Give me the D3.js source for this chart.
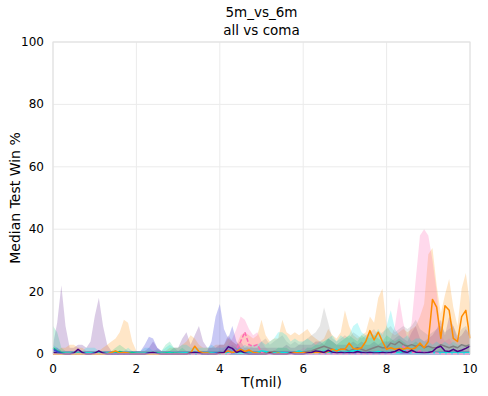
<!DOCTYPE html>
<html>
<head>
<meta charset="utf-8">
<script src="https://cdn.jsdelivr.net/npm/d3@7"></script>
<style>
  body { margin: 0; background: #fff; }
  svg { font-family: "DejaVu Sans", sans-serif; }
</style>
</head>
<body>
<div id="chart"></div>
<script>
// sample grid, T in millions (step 0.1)
var tMil = [0,0.1,0.2,0.3,0.4,0.5,0.6,0.7,0.8,0.9,
  1,1.1,1.2,1.3,1.4,1.5,1.6,1.7,1.8,1.9,2,2.1,2.2,2.3,2.4,2.5,2.6,2.7,2.8,2.9,
  3,3.1,3.2,3.3,3.4,3.5,3.6,3.7,3.8,3.9,4,4.1,4.2,4.3,4.4,4.5,4.6,4.7,4.8,4.9,
  5,5.1,5.2,5.3,5.4,5.5,5.6,5.7,5.8,5.9,6,6.1,6.2,6.3,6.4,6.5,6.6,6.7,6.8,6.9,
  7,7.1,7.2,7.3,7.4,7.5,7.6,7.7,7.8,7.9,8,8.1,8.2,8.3,8.4,8.5,8.6,8.7,8.8,8.9,
  9,9.1,9.2,9.3,9.4,9.5,9.6,9.7,9.8,9.9,10];

var xTicks = [0, 2, 4, 6, 8, 10];
var yTicks = [0, 20, 40, 60, 80, 100];

// upper edge of each shaded band (lower edge is 0)
var indigoHi = [3,10,22,9,2,2,3,3,2,4, 12,18,9,3,1,1,1,1,1,1, 1,1,1,2,4,2,1,1,1,2,
  2,5,7,3,6,9,4,2,2,2, 3,3,6,4,3,4,2,2,2,2, 2,2,2,2,2,2,3,2,2,3,
  3,3,3,4,4,3,5,4,3,3, 3,3,4,3,4,3,3,4,3,4, 4,4,5,6,5,4,7,9,5,4, 5,6,8,11,6,12,9,5,6,8, 6];
var orangeHi = [1,1,2,2,3,3,2,2,1,1, 1,1,2,3,4,5,7,11,10,4, 1,1,1,1,1,1,1,1,2,2,
  2,3,4,6,5,3,2,2,2,3, 3,3,5,4,3,6,7,6,5,6, 11,6,4,5,5,11,7,6,7,6,
  7,8,6,5,4,5,8,6,5,7, 14,9,6,5,6,7,12,10,18,21, 9,7,6,7,8,7,8,9,12,16, 32,34,22,13,19,24,15,9,21,26, 16];
var pinkHi = [0,0,0,0,0,0,0,0,0,0, 0,0,0,0,0,0,0,0,0,0, 0,0,0,0,0,0,0,0,0,0,
  0,0,0,0,1,1,1,0,0,0, 1,2,3,5,8,12,11,8,6,7, 4,2,1,1,1,1,1,1,1,1,
  2,2,2,1,1,1,1,1,1,1, 1,1,1,2,2,2,2,3,2,2, 3,5,9,18,10,5,10,24,38,40, 38,30,20,6,4,5,3,2,3,3, 2];
var grayHi = [0,0,0,0,0,0,0,0,0,0, 0,0,0,0,0,0,0,0,0,0, 0,0,0,0,0,0,0,0,0,0,
  1,1,1,1,1,1,1,1,1,1, 1,1,2,3,2,1,2,3,2,2, 4,5,3,4,5,6,4,3,4,3,
  4,5,6,7,9,15,10,5,4,5, 6,5,7,6,5,6,7,8,6,7, 8,9,7,8,9,8,9,11,8,7, 6,7,8,9,7,8,9,6,8,9, 7];
var cyanHi = [3,2,1,1,1,1,1,1,2,2, 2,1,1,1,1,1,1,1,2,1, 1,1,2,2,1,1,1,2,3,2,
  2,3,3,2,2,2,2,2,3,2, 2,2,3,2,2,2,3,2,3,3, 4,3,4,5,7,7,6,4,5,4,
  4,5,4,3,4,4,5,6,4,6, 5,6,9,10,7,6,5,6,8,6, 9,14,8,6,5,6,4,5,5,4, 4,3,4,3,4,3,4,3,3,3, 3];
var greenHi = [9,7,2,1,1,1,1,1,1,1, 1,1,1,1,1,2,3,2,1,1, 1,1,1,1,1,1.5,1,3,4,2,
  1,2,1,1,1,1,1,1,1,1, 1,1,1,1,1,1,1,1,1,1, 1,1,1,1,2,2,2,1,1,1,
  1,2,2,3,3,4,5,4,3,4, 5,6,5,4,6,5,7,6,5,4, 6,5,4,5,4,3,3,4,3,2, 2,2,1,2,1,1,2,1,1,1, 1];
var blueHi = [2,2,1,1,1,1,1,1,1,1, 1,1,1,1,1,1,1,1,1,1, 1,1,3,5.5,5,2,1,1,1,1,
  1,1,1,1,1,1,1,1,4,12, 16,8,5,9,4,2,1,1,1,1, 1,1,1,1,1,1,1,1,1,1,
  1,1,1,1,1,1,1,1,1,1, 1,1,1,1,1,1,1,1,1,1, 1,1,1,1,1,1,1,1,1,1, 1,1,1,1,1,1,1,1,1,1, 1];

// median lines
var indigoMed = [0.5,0.3,0.2,0,0,0.3,1.5,0.5,0,0, 0.3,1,0.3,0,0,0,0,0,0,0, 0,0,0,0.3,0.5,0.2,0,0,0,0,
  0,0,0,0.3,0.5,0.3,0,0,0,0, 0.3,0.5,2.3,1.8,0.5,1,0.3,0,0,0, 0,0,0.3,0,0,0,0,0.3,0,0,
  0,0.3,0.5,1,0.8,0.5,1.2,0.6,0.3,0.5, 0.3,0.5,0.3,0.8,0.5,0.3,0.5,0.3,0.3,0.5,
  0.3,0.5,0.8,1.5,0.8,0.5,1.2,0.6,0.5,0.3, 0.5,0.8,2,2.5,1,0.8,1.5,0.8,1.2,1.8, 2.5];
var orangeMed = [0,0,0,0,0,0,0,0,0,0, 0,0,0,0,0.5,1,0.3,0.5,0.3,0, 0,0,0,0,0,0,0,0,0,0,
  0,0,0,0.3,2.5,0.8,0.3,0.3,0,0, 0.3,0.5,1,0.5,0.8,1.5,0.8,1.3,0.5,0.3, 0,0,0.5,0,0.3,0,0,0.3,0.5,0.3,
  0.5,0.3,0.3,0.5,0.5,0.5,0.8,1.5,1,1.5, 1.5,3.5,1.8,1.5,2,4,7.5,4.5,7,4,
  1.5,2,1.5,1.8,1.5,2,1.5,2,3.5,2, 4,17.5,15,5,15.5,14,5,4,12,14, 5];
var pinkMed = [0,0,0,0,0,0,0,0,0,0, 0,0,0,0,0,0,0,0,0,0, 0,0,0,0,0,0,0,0,0,0,
  0,0,0,0,0,0,0,0,0,0, 0,0,0,0.5,1.5,4,7,3,2.5,3, 0.5,0,0,0,0,0,0,0,0,0,
  0,0,0,0,0,0,0,0,0,0, 0,0,0,0,0,0,0,0,0,0, 0,0,0.5,1.5,2.5,1,0.5,0.5,1,0.5, 0.5,0.3,0.3,0,0,0,0,0,0,0, 0];
var grayMed = [0,0,0,0,0,0,0,0,0,0, 0,0,0,0,0,0,0,0,0,0, 0,0,0,0,0,0,0,0,0,0,
  0,0,0,0,0,0,0,0,0,0, 0,0,0,0,0,0,0,0,0,0, 0.3,0.5,0.5,0.8,0.5,0.5,0.3,0.3,0.5,0.5,
  0.5,0.8,1,1.5,2,2.5,2,1.5,1,1.5, 1.5,1,1.5,2,1.5,1,1.5,2,2.5,2,
  2,3.5,3,4,3,2.5,3,2.5,3,2, 2.5,2,2,3,2.5,2,2.5,2,3,2.5, 3];
var cyanMed = [0.3,0.3,0.2,0.2,0.2,0.2,0.2,0.2,0.3,0.3, 0.3,0.2,0.2,0.2,0.2,0.2,0.2,0.2,0.2,0.2,
  0.2,0.2,0.2,0.2,0.2,0.2,0.2,0.2,0.3,0.2, 0.2,0.3,0.3,0.2,0.2,0.2,0.2,0.2,0.3,0.2,
  0.2,0.2,0.3,0.8,0.3,0.2,0.3,0.2,0.3,0.5, 1,0.8,0.3,0.3,0.5,0.5,0.3,0.3,0.5,1,
  0.5,0.3,0.3,0.3,0.5,1,0.5,0.8,1.5,0.5, 0.5,0.8,1,1.2,0.5,0.3,0.5,0.5,0.8,0.5,
  0.5,0.5,0.3,0.3,1,0.8,0.3,0.3,0.3,0.3, 0.3,0.3,0.3,0.3,0.3,0.3,0.3,0.3,0.3,0.3, 0.3];
var greenMed = [2,1,0.5,0.2,0.2,0.2,0.2,0.2,0.2,0.2, 0.2,0.2,0.2,0.2,0.2,0.3,0.8,0.3,0.3,0.5,
  0.2,0.2,0.2,0.2,0.2,0.3,0.2,0.3,0.5,0.3, 0.2,0.2,0.2,0.2,0.2,0.2,0.2,0.2,0.2,0.2,
  0.2,0.2,0.2,0.2,0.2,0.2,0.2,0.2,0.2,0.2, 0.2,0.2,0.2,0.2,0.2,0.2,0.2,0.2,0.2,0.2,
  0.2,0.2,0.2,0.2,0.2,0.2,0.2,0.2,0.2,0.2, 0.2,0.2,0.2,0.2,0.2,0.2,0.2,0.2,0.2,0.2,
  0.2,0.2,0.2,0.2,0.2,0.2,0.2,0.2,0.2,0.2, 0.2,0.2,0.2,0.2,0.2,0.2,0.2,0.2,0.2,0.2, 0.2];
var blueMed = [1.5,0.8,0.2,0.1,0.1,0.1,0.1,0.1,0.1,0.1, 0.1,0.1,0.1,0.1,0.1,0.1,0.1,0.1,0.1,0.1,
  0.1,0.1,0.1,0.3,0.3,0.1,0.1,0.1,0.1,0.1, 0.1,0.1,0.1,0.1,0.1,0.1,0.1,0.1,0.1,0.3,
  0.5,0.3,0.1,0.1,0.1,0.1,0.1,0.1,0.1,0.1, 0.1,0.1,0.1,0.1,0.1,0.1,0.1,0.1,0.1,0.1,
  0.1,0.1,0.1,0.1,0.1,0.1,0.1,0.1,0.1,0.1, 0.1,0.1,0.1,0.1,0.1,0.1,0.1,0.1,0.1,0.1,
  0.1,0.1,0.1,0.1,0.1,0.1,0.1,0.1,0.1,0.1, 0.1,0.1,0.1,0.1,0.1,0.1,0.1,0.1,0.1,0.1, 0.1];

function init() {
    var w = 488;
    var h = 396;
    var margin = {top: 42, right: 18, bottom: 42, left: 53};
    var iw = w - margin.left - margin.right;
    var ih = h - margin.top - margin.bottom;

    var svg = d3.select("#chart")
        .append("svg")
        .attr("width", w)
        .attr("height", h);

    var g = svg.append("g")
        .attr("transform", "translate(" + margin.left + "," + margin.top + ")");

    var x = d3.scaleLinear().domain([0, 10]).range([0, iw]);
    var y = d3.scaleLinear().domain([0, 100]).range([ih, 0]);

    // grid
    g.selectAll("line.vg").data(xTicks).enter().append("line")
        .attr("x1", d => x(d)).attr("x2", d => x(d))
        .attr("y1", 0).attr("y2", ih)
        .attr("stroke", "#ebebeb").attr("stroke-width", 1);
    g.selectAll("line.hg").data(yTicks).enter().append("line")
        .attr("x1", 0).attr("x2", iw)
        .attr("y1", d => y(d)).attr("y2", d => y(d))
        .attr("stroke", "#ebebeb").attr("stroke-width", 1);

    var series = [
        {hi: indigoHi, med: indigoMed, color: "#4b0082", op: 0.2},
        {hi: orangeHi, med: orangeMed, color: "#ff8c00", op: 0.22},
        {hi: pinkHi, med: pinkMed, color: "#ff69b4", op: 0.25, dash: "4,2"},
        {hi: grayHi, med: grayMed, color: "#808080", op: 0.2},
        {hi: cyanHi, med: cyanMed, color: "#00e5e5", op: 0.22},
        {hi: greenHi, med: greenMed, color: "#00c878", op: 0.2},
        {hi: blueHi, med: blueMed, color: "#3c3cdc", op: 0.28}
    ];

    var area = d3.area()
        .x((d, i) => x(tMil[i]))
        .y0(y(0))
        .y1(d => y(d));

    var line = d3.line()
        .x((d, i) => x(tMil[i]))
        .y(d => y(d));

    // bands first
    g.selectAll("path.band").data(series).enter().append("path")
        .attr("d", d => area(d.hi))
        .attr("fill", d => d.color)
        .attr("fill-opacity", d => d.op)
        .attr("stroke", "none");

    // medians on top (drawn back to front)
    var order = [3, 5, 6, 4, 2, 1, 0];
    g.selectAll("path.med").data(order.map(k => series[k])).enter().append("path")
        .attr("d", d => line(d.med))
        .attr("fill", "none")
        .attr("stroke", d => d.color)
        .attr("stroke-width", 1.5)
        .attr("stroke-linejoin", "round")
        .attr("stroke-dasharray", d => d.dash || null);

    // frame
    g.append("rect")
        .attr("x", 0).attr("y", 0)
        .attr("width", iw).attr("height", ih)
        .attr("fill", "none")
        .attr("stroke", "#e0e0e0").attr("stroke-width", 1);

    // tick labels
    g.selectAll("text.xt").data(xTicks).enter().append("text")
        .attr("x", d => x(d)).attr("y", ih + 19)
        .attr("text-anchor", "middle")
        .attr("font-size", 12)
        .text(d => d);
    g.selectAll("text.yt").data(yTicks).enter().append("text")
        .attr("x", -9).attr("y", d => y(d) + 4)
        .attr("text-anchor", "end")
        .attr("font-size", 12)
        .text(d => d);

    // axis labels
    svg.append("text")
        .attr("x", margin.left + iw / 2).attr("y", 387)
        .attr("text-anchor", "middle")
        .attr("font-size", 14)
        .text("T(mil)");
    svg.append("text")
        .attr("transform", "translate(20," + (margin.top + ih / 2) + ") rotate(-90)")
        .attr("text-anchor", "middle")
        .attr("font-size", 14)
        .text("Median Test Win %");

    // title
    svg.append("text")
        .attr("x", margin.left + iw / 2).attr("y", 17)
        .attr("text-anchor", "middle")
        .attr("font-size", 13.5)
        .text("5m_vs_6m");
    svg.append("text")
        .attr("x", margin.left + iw / 2).attr("y", 35)
        .attr("text-anchor", "middle")
        .attr("font-size", 13.5)
        .text("all vs coma");
}

window.onload = init;
</script>
</body>
</html>
